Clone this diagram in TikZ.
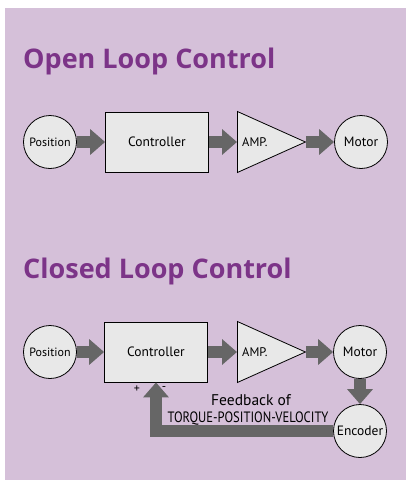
\documentclass[tikz,border=0pt]{standalone}
\usepackage{fontspec}
\setmainfont{PT Sans}
\newfontfamily\condFont[FakeStretch=0.84]{PT Sans}
\newfontfamily\titleFont{Open Sans}
\usepackage{xcolor}
\usetikzlibrary{arrows.meta, shapes.geometric, calc}
\definecolor{bgPurple}{RGB}{213,192,217}
\definecolor{titlePurple}{RGB}{124,52,136}
\definecolor{arrowGray}{RGB}{102,102,102}
\definecolor{nodeGray}{RGB}{232,232,232}
\tikzset{
circNode/.style={circle, draw, line width=0.8pt, fill=nodeGray, minimum size=53pt,
    inner sep=0pt, font=\fontsize{13.5}{13.5}\selectfont},
ctrlBox/.style={rectangle, draw, line width=0.8pt, fill=nodeGray, minimum width=103pt,
    minimum height=60pt, font=\fontsize{13.5}{13.5}\selectfont},
ampTri/.style={isosceles triangle, isosceles triangle stretches, shape border rotate=0,
    draw, line width=0.8pt, fill=nodeGray, minimum width=61pt, minimum height=68pt, inner sep=0pt},
fatArrow/.style={draw=arrowGray, line width=12pt, line join=miter,
    -{Triangle[length=15pt,width=25pt]}},
titleText/.style={anchor=base west, inner sep=0pt, text=titlePurple,
    font=\titleFont\bfseries\fontsize{27}{27}\selectfont}
}

\begin{document}
\begin{tikzpicture}[x=1pt,y=-1pt]
    \useasboundingbox (0,0) rectangle (406,482);
    \fill[bgPurple] (5,8) rectangle (406,480);

    % open loop
    \node[titleText] (titleA) at (23,68) {Open Loop Control};
    \node[circNode, font=\fontsize{12}{12}\selectfont] (posA) at (50,142) {Position};
    \node[ctrlBox] (ctrlA) at (157,142) {Controller};
    \node[ampTri, anchor=west] (ampA) at (237,142) {};
    \node[anchor=west, inner sep=0pt, font=\fontsize{12.5}{12.5}\selectfont] (ampTxtA) at ($(ampA.west)+(5,0)$) {AMP.};
    \node[circNode] (motA) at (361,142) {Motor};
    \draw[fatArrow] (posA) -- (ctrlA);
    \draw[fatArrow] (ctrlA) -- (ampA);
    \draw[fatArrow] (ampA) -- (motA);

    % closed loop
    \node[titleText] (titleB) at (23,278) {Closed Loop Control};
    \node[circNode, font=\fontsize{12}{12}\selectfont] (posB) at (50,352) {Position};
    \node[ctrlBox] (ctrlB) at (156,352) {Controller};
    \node[ampTri, anchor=west] (ampB) at (237,352) {};
    \node[anchor=west, inner sep=0pt, font=\fontsize{12.5}{12.5}\selectfont] (ampTxtB) at ($(ampB.west)+(5,0)$) {AMP.};
    \node[circNode] (motB) at (360,352) {Motor};
    \node[circNode] (encB) at (360,431) {Encoder};
    \draw[fatArrow] (posB) -- (ctrlB);
    \draw[fatArrow] (ctrlB) -- (ampB);
    \draw[fatArrow] (ampB) -- (motB);
    \draw[fatArrow] (motB) -- (encB);
    \draw[fatArrow] (encB) -| (ctrlB);
    \node[font=\fontsize{12}{12}\selectfont] (plusB) at (137,389) {+};
    \node[font=\fontsize{12}{12}\selectfont] (minusB) at (164,389) {-};
    \node[font=\fontsize{15.5}{15.5}\selectfont] (fbTxt) at (251,400) {Feedback of};
    \node[font=\condFont\fontsize{15}{15}\selectfont] (tpvTxt) at (248,419) {TORQUE-POSITION-VELOCITY};
\end{tikzpicture}
\end{document}
